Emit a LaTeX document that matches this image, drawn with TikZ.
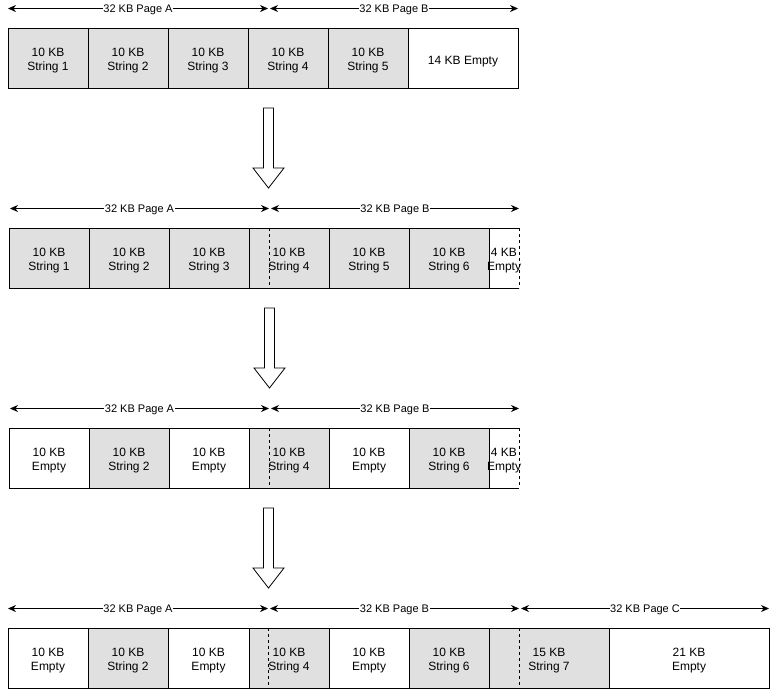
\documentclass[tikz,border=0pt]{standalone}
\usepackage{fontspec}
\setmainfont{Liberation Sans}
\usetikzlibrary{positioning, arrows.meta}
\definecolor{cellgray}{RGB}{224, 224, 224}
\tikzset{
  celltext/.style={align=center, font=\fontsize{12}{14}\selectfont, inner sep=0pt,
    text height=26.6pt},
  cell/.style={
    celltext, draw=black, line width=0.9pt, outer sep=0pt,
    minimum width=80pt, minimum height=60pt,
  },
  used/.style={cell, fill=cellgray},
  free/.style={cell, fill=white},
  tail/.style={cell, draw=none, fill=white, minimum width=30pt},
  span/.style={<->, >={Stealth[length=8pt, width=7pt]}, line width=0.8pt},
  spanlabel/.style={fill=white, inner sep=0.6pt, text depth=0pt,
    font=\fontsize{11}{13}\selectfont},
  pagecut/.style={line width=0.9pt, dash pattern=on 3pt off 3pt},
  movearrow/.style={draw=black, fill=white, line width=0.8pt},
}

\begin{document}
\begin{tikzpicture}[x=1pt, y=-1pt]
\useasboundingbox (0,0) rectangle (779,689);

% row 1: two full pages
\coordinate (s1a) at (8,8.5);
\coordinate (s1b) at (268,8.5);
\coordinate (s1c) at (270,8.5);
\coordinate (s1d) at (518,8.5);
\draw[span] (s1a) -- node[spanlabel] {32 KB Page A} (s1b);
\draw[span] (s1c) -- node[spanlabel] {32 KB Page B} (s1d);

\node[used, anchor=north west] (a1) at (8,28) {10 KB\\String 1};
\node[used, right=0pt of a1] (a2) {10 KB\\String 2};
\node[used, right=0pt of a2] (a3) {10 KB\\String 3};
\node[used, right=0pt of a3] (a4) {10 KB\\String 4};
\node[used, right=0pt of a4] (a5) {10 KB\\String 5};
\node[free, right=0pt of a5, minimum width=110pt, text height=14.6pt] (a6) {14 KB Empty};

% row 2: string 6 added
\coordinate (s2a) at (10,208.5);
\coordinate (s2b) at (269,208.5);
\coordinate (s2c) at (271,208.5);
\coordinate (s2d) at (519,208.5);
\draw[span] (s2a) -- node[spanlabel] {32 KB Page A} (s2b);
\draw[span] (s2c) -- node[spanlabel] {32 KB Page B} (s2d);

\node[used, anchor=north west] (b1) at (9,228) {10 KB\\String 1};
\node[used, right=0pt of b1] (b2) {10 KB\\String 2};
\node[used, right=0pt of b2] (b3) {10 KB\\String 3};
\node[used, right=0pt of b3] (b4) {10 KB\\String 4};
\node[used, right=0pt of b4] (b5) {10 KB\\String 5};
\node[used, right=0pt of b5] (b6) {10 KB\\String 6};
\node[tail, right=0pt of b6, label={[celltext]center:{4 KB\\Empty}}] (b7) {};
\draw[line width=0.9pt] (b7.north east) -- (b7.north west) -- (b7.south west) -- (b7.south east);
\draw[pagecut] (b7.north east) -- (b7.south east);
\draw[pagecut] (269,228) -- (269,288);

% row 3: strings 1, 3 and 5 freed
\coordinate (s3a) at (10,408.5);
\coordinate (s3b) at (269,408.5);
\coordinate (s3c) at (271,408.5);
\coordinate (s3d) at (519,408.5);
\draw[span] (s3a) -- node[spanlabel] {32 KB Page A} (s3b);
\draw[span] (s3c) -- node[spanlabel] {32 KB Page B} (s3d);

\node[free, anchor=north west] (c1) at (9,428) {10 KB\\Empty};
\node[used, right=0pt of c1] (c2) {10 KB\\String 2};
\node[free, right=0pt of c2] (c3) {10 KB\\Empty};
\node[used, right=0pt of c3] (c4) {10 KB\\String 4};
\node[free, right=0pt of c4] (c5) {10 KB\\Empty};
\node[used, right=0pt of c5] (c6) {10 KB\\String 6};
\node[tail, right=0pt of c6, label={[celltext]center:{4 KB\\Empty}}] (c7) {};
\draw[line width=0.9pt] (c7.north east) -- (c7.north west) -- (c7.south west) -- (c7.south east);
\draw[pagecut] (c7.north east) -- (c7.south east);
\draw[pagecut] (269,428) -- (269,488);

% row 4: string 7 needs a third page
\coordinate (s4a) at (8,608.5);
\coordinate (s4b) at (268,608.5);
\coordinate (s4c) at (270,608.5);
\coordinate (s4d) at (519,608.5);
\coordinate (s4e) at (521,608.5);
\coordinate (s4f) at (769,608.5);
\draw[span] (s4a) -- node[spanlabel] {32 KB Page A} (s4b);
\draw[span] (s4c) -- node[spanlabel] {32 KB Page B} (s4d);
\draw[span] (s4e) -- node[spanlabel] {32 KB Page C} (s4f);

\node[free, anchor=north west] (d1) at (8,628) {10 KB\\Empty};
\node[used, right=0pt of d1] (d2) {10 KB\\String 2};
\node[free, right=0pt of d2, minimum width=81pt] (d3) {10 KB\\Empty};
\node[used, right=0pt of d3] (d4) {10 KB\\String 4};
\node[free, right=0pt of d4] (d5) {10 KB\\Empty};
\node[used, right=0pt of d5] (d6) {10 KB\\String 6};
\node[used, right=0pt of d6, minimum width=120pt] (d7) {15 KB\\String 7};
\node[free, right=0pt of d7, minimum width=160pt] (d8) {21 KB\\Empty};
\draw[pagecut] (268,628) -- (268,688);
\draw[pagecut] (519,628) -- (519,688);

% arrows between the steps
\foreach \x/\y in {268.5/108, 269.5/308, 268.5/508}
  \draw[movearrow, shift={(\x,\y)}]
    (-5,0) -- (5,0) -- (5,60) -- (15.5,60) -- (0,80) -- (-15.5,60) -- (-5,60) -- cycle;

\end{tikzpicture}
\end{document}
